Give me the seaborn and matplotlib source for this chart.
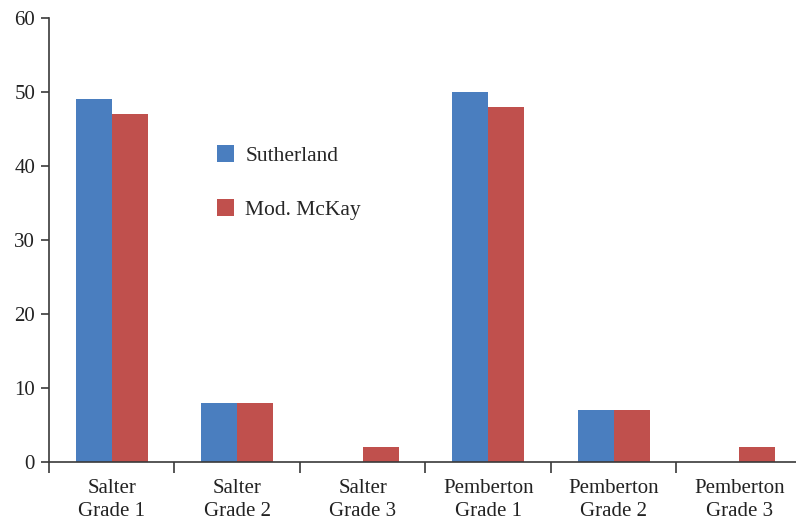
import pandas as pd
import matplotlib.pyplot as plt
import seaborn as sns

# --- datos ---
categorias = ['Salter\nGrade 1', 'Salter\nGrade 2', 'Salter\nGrade 3',
              'Pemberton\nGrade 1', 'Pemberton\nGrade 2', 'Pemberton\nGrade 3']
sutherland = [49, 8, 0, 50, 7, 0]
mod_mckay = [47, 8, 2, 48, 7, 2]
series = ['Sutherland', 'Mod. McKay']
colores = ['#4A7EBF', '#C0504D']

df = pd.DataFrame({
    'categoria': categorias * 2,
    'valor': sutherland + mod_mckay,
    'serie': [series[0]] * len(categorias) + [series[1]] * len(categorias),
})

sns.set_style('white')
plt.rcParams['font.family'] = ['Liberation Serif', 'DejaVu Serif']

fig = plt.figure(figsize=(7.96, 5.23), dpi=100)
ax = fig.add_axes([49 / 796, 61 / 523, 753 / 796, 444 / 523])

sns.barplot(data=df, x='categoria', y='valor', hue='serie', palette=colores,
            width=0.575, saturation=1, linewidth=0, ax=ax, legend=True)

ax.set_xlim(-0.5, 5.5)
ax.set_ylim(0, 60)
ax.set_yticks(range(0, 61, 10))
ax.set_xlabel('')
ax.set_ylabel('')

for s in ['top', 'right']:
    ax.spines[s].set_visible(False)
for s in ['left', 'bottom']:
    ax.spines[s].set_color('#3a3a3a')
    ax.spines[s].set_linewidth(1.2)

# ticks del eje x en los límites entre categorías
ax.set_xticks([i + 0.5 for i in range(-1, 5)], minor=True)
ax.tick_params(axis='x', which='major', length=0, labelsize=15, colors='#222222', pad=12)
ax.tick_params(axis='x', which='minor', length=8, width=1.2, color='#3a3a3a', direction='out', bottom=True)
ax.tick_params(axis='y', length=6, width=1.2, color='#3a3a3a', direction='out', left=True,
               labelsize=15, labelcolor='#222222', pad=4)
for lbl in ax.get_xticklabels():
    lbl.set_linespacing(1.3)

handles, labels = ax.get_legend_handles_labels()
ax.legend(handles, labels, loc='upper left', bbox_to_anchor=(0.212, 0.733), frameon=False,
          fontsize=15.5, handlelength=0.8, handleheight=0.8, handletextpad=0.5,
          labelspacing=1.55, borderaxespad=0)

fig.savefig('out.png', dpi=100)
